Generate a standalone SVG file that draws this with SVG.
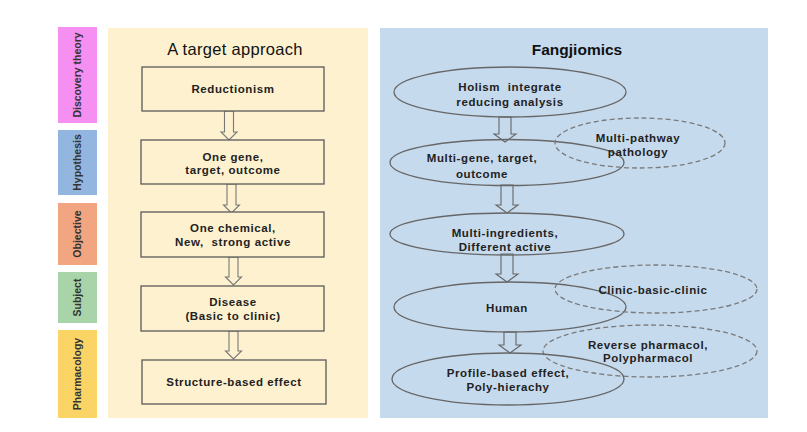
<svg xmlns="http://www.w3.org/2000/svg" width="807" height="432" viewBox="0 0 807 432">
<style>
.t{font-family:"Liberation Sans",Arial,sans-serif;font-weight:bold;font-size:11.5px;fill:#222;text-anchor:middle;letter-spacing:0.6px}
.side{font-family:"Liberation Sans",Arial,sans-serif;font-weight:bold;font-size:10.5px;fill:#333;text-anchor:middle}
.box{fill:#FDF1CF;stroke:#5a5a5a;stroke-width:1.3}
.el{fill:none;stroke:#666;stroke-width:1.3}
.dash{fill:none;stroke:#7a7a7a;stroke-width:1.3;stroke-dasharray:5 3}
.arY{fill:#FDF1CF;stroke:#777;stroke-width:1.1}
.arB{fill:#C6DAEE;stroke:#666;stroke-width:1.1}
</style>
<rect width="807" height="432" fill="#ffffff"/>
<g id="labels">
<g id="lbl-discovery"><rect x="58" y="27" width="39" height="96" fill="#F58FF2"/><text class="side" transform="translate(81,75) rotate(-90)">Discovery theory</text></g>
<g id="lbl-hypothesis"><rect x="58" y="130" width="39" height="65" fill="#93B6E0"/><text class="side" transform="translate(81,162.5) rotate(-90)">Hypothesis</text></g>
<g id="lbl-objective"><rect x="58" y="203" width="39" height="62" fill="#F2A581"/><text class="side" transform="translate(81,234) rotate(-90)">Objective</text></g>
<g id="lbl-subject"><rect x="58" y="272" width="39" height="51" fill="#A9D3A8"/><text class="side" transform="translate(81,297.5) rotate(-90)">Subject</text></g>
<g id="lbl-pharmacology"><rect x="58" y="330" width="39" height="88" fill="#FAD566"/><text class="side" transform="translate(81,374) rotate(-90)">Pharmacology</text></g>
</g>
<g id="panel-left">
<rect x="108" y="28" width="260" height="390" fill="#FDF1CF"/>
<text x="235" y="55" style="font-family:'Liberation Sans',Arial,sans-serif;font-size:16.5px;fill:#111;text-anchor:middle;letter-spacing:0.3px">A target approach</text>
</g>
<g id="panel-right">
<rect x="380" y="28" width="388" height="390" fill="#C6DAEE"/>
<text x="577" y="55" style="font-family:'Liberation Sans',Arial,sans-serif;font-size:15.5px;font-weight:bold;fill:#111;text-anchor:middle">Fangjiomics</text>
</g>
<g id="connectors">
<path class="arY" d="M224.5,111 H233.5 V132 H237 L229,140 L221,132 H224.5 Z"/>
<path class="arY" d="M227,184 H236 V205 H239.5 L231.5,213 L223.5,205 H227 Z"/>
<path class="arY" d="M229,257 H238 V277 H241.5 L233.5,285 L225.5,277 H229 Z"/>
<path class="arY" d="M229,331 H238 V351 H241.5 L233.5,359 L225.5,351 H229 Z"/>
<path class="arB" d="M499,117 H511 V134 H516 L505,142 L494,134 H499 Z"/>
<path class="arB" d="M501,185 H513 V205 H518 L507,213 L496,205 H501 Z"/>
<path class="arB" d="M501,254 H513 V274 H518 L507,282 L496,274 H501 Z"/>
<path class="arB" d="M504,332 H516 V345 H521 L510,353 L499,345 H504 Z"/>
</g>
<g id="n-reductionism"><rect class="box" x="142" y="67" width="182" height="44"/><text class="t" x="233" y="93">Reductionism</text></g>
<g id="n-onegene"><rect class="box" x="141" y="140" width="183" height="44"/><text class="t" x="233" y="161">One gene,</text><text class="t" x="233" y="174">target, outcome</text></g>
<g id="n-onechemical"><rect class="box" x="141" y="212" width="183" height="45"/><text class="t" x="233" y="232">One chemical,</text><text class="t" x="233" y="246">New,&#160; strong active</text></g>
<g id="n-disease"><rect class="box" x="141" y="286" width="183" height="45"/><text class="t" x="233" y="306">Disease</text><text class="t" x="233" y="320">(Basic to clinic)</text></g>
<g id="n-structure"><rect class="box" x="142" y="360" width="184" height="44"/><text class="t" x="234" y="386">Structure-based effect</text></g>
<g id="n-holism"><ellipse class="el" cx="510" cy="92" rx="116" ry="25"/><text class="t" x="510" y="91">Holism&#160; integrate</text><text class="t" x="510" y="106">reducing analysis</text></g>
<g id="n-multigene"><ellipse class="el" cx="507" cy="162.5" rx="117" ry="23"/><text class="t" x="482" y="162">Multi-gene, target,</text><text class="t" x="482" y="178">outcome</text></g>
<g id="n-multipathway"><ellipse class="dash" cx="640" cy="143" rx="85" ry="25"/><text class="t" x="638" y="142">Multi-pathway</text><text class="t" x="638" y="156">pathology</text></g>
<g id="n-multiingredients"><ellipse class="el" cx="507" cy="234" rx="117" ry="21"/><text class="t" x="505" y="237">Multi-ingredients,</text><text class="t" x="505" y="251">Different active</text></g>
<g id="n-human"><ellipse class="el" cx="510" cy="307" rx="116" ry="25"/><text class="t" x="507" y="312">Human</text></g>
<g id="n-clinic"><ellipse class="dash" cx="656" cy="289" rx="101" ry="24"/><text class="t" x="653" y="294">Clinic-basic-clinic</text></g>
<g id="n-reverse"><ellipse class="dash" cx="650" cy="351" rx="107" ry="26"/><text class="t" x="648" y="349">Reverse pharmacol,</text><text class="t" x="648" y="362">Polypharmacol</text></g>
<g id="n-profile"><ellipse class="el" cx="508" cy="379" rx="116" ry="26"/><text class="t" x="508" y="377">Profile-based effect,</text><text class="t" x="508" y="391">Poly-hierachy</text></g>
</svg>
